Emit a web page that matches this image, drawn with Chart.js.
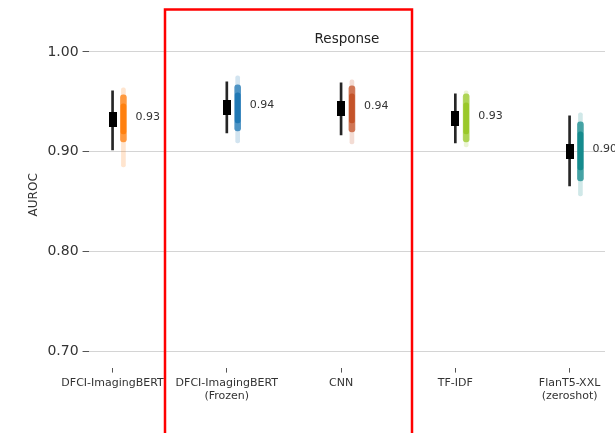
<!DOCTYPE html>
<html>
<head>
<meta charset="utf-8">
<script src="https://cdn.jsdelivr.net/npm/chart.js@4.4.1/dist/chart.umd.min.js"></script>
<style>
  html, body { margin: 0; padding: 0; background: #fff; }
  #wrap { width: 615px; height: 433px; position: relative; }
</style>
</head>
<body>
<div id="wrap"><canvas id="aurocChart"></canvas></div>
<script>
// categories and values
const models = [
  ["DFCI-ImagingBERT"],
  ["DFCI-ImagingBERT", "(Frozen)"],
  ["CNN"],
  ["TF-IDF"],
  ["FlanT5-XXL", "(zeroshot)"]
];
const meanAuroc = [0.932, 0.944, 0.943, 0.933, 0.900];
const meanLabels = ["0.93", "0.94", "0.94", "0.93", "0.90"];
const ciLow  = [0.902, 0.919, 0.917, 0.909, 0.866];
const ciHigh = [0.961, 0.970, 0.969, 0.958, 0.936];
// bootstrap spread: extremes, bulk, core
const bootMin  = [0.885, 0.909, 0.908, 0.905, 0.856];
const bootMax  = [0.964, 0.976, 0.972, 0.961, 0.939];
const bulkLow  = [0.910, 0.921, 0.920, 0.910, 0.871];
const bulkHigh = [0.957, 0.967, 0.966, 0.958, 0.930];
const coreLow  = [0.918, 0.929, 0.929, 0.918, 0.882];
const coreHigh = [0.948, 0.959, 0.958, 0.949, 0.920];
const yTicks = [0.70, 0.80, 0.90, 1.00];

const colors = ["255,127,14", "31,119,180", "196,82,40", "154,200,40", "20,138,140"];
const stripShift = 0.095; // strip sits just right of the mean marker

// black box marker for the mean
let boxMark = document.createElement("canvas");
boxMark.width = 8;
boxMark.height = 15;
let bctx = boxMark.getContext("2d");
bctx.fillStyle = "#000";
bctx.fillRect(0, 0, 8, 15);

Chart.defaults.font.family = "'DejaVu Sans', sans-serif";
Chart.defaults.color = "#333";

function stripData(lo, hi) {
  return models.map((m, i) => ({ x: i + stripShift, y: [lo[i], hi[i]] }));
}
function stripColors(alpha) {
  return colors.map(c => "rgba(" + c + "," + alpha + ")");
}

let datasets = [
  {
    type: "scatter",
    data: meanAuroc.map((v, i) => ({ x: i, y: v })),
    pointStyle: boxMark,
    pointRadius: 6
  },
  {
    type: "bar",
    grouped: false,
    data: models.map((m, i) => ({ x: i, y: [ciLow[i], ciHigh[i]] })),
    backgroundColor: "#262626",
    barThickness: 2
  },
  {
    type: "bar",
    grouped: false,
    data: stripData(coreLow, coreHigh),
    backgroundColor: stripColors(0.95),
    barThickness: 5,
    borderRadius: 2.5,
    borderSkipped: false
  },
  {
    type: "bar",
    grouped: false,
    data: stripData(bulkLow, bulkHigh),
    backgroundColor: stripColors(0.75),
    barThickness: 6,
    borderRadius: 3,
    borderSkipped: false
  },
  {
    type: "bar",
    grouped: false,
    data: stripData(bootMin, bootMax),
    backgroundColor: stripColors(0.2),
    barThickness: 4,
    borderRadius: 2,
    borderSkipped: false
  }
];

// value labels, the red frame and the "Response" heading
const extrasPlugin = {
  id: "extras",
  afterDatasetsDraw(chart) {
    let ctx = chart.ctx;
    let xs = chart.scales.x;
    let ys = chart.scales.y;
    ctx.save();
    ctx.font = "11px 'DejaVu Sans'";
    ctx.fillStyle = "#333";
    ctx.textBaseline = "middle";
    meanAuroc.forEach((v, i) => {
      ctx.fillText(meanLabels[i], xs.getPixelForValue(i) + 23, ys.getPixelForValue(v) - 3);
    });

    ctx.font = "13.5px 'DejaVu Sans'";
    ctx.textAlign = "center";
    ctx.fillStyle = "#222";
    ctx.fillText("Response", 347, 39);

    ctx.strokeStyle = "#ff0000";
    ctx.lineWidth = 2.5;
    ctx.strokeRect(165, 9.5, 247, chart.height + 10);
    ctx.restore();
  }
};

new Chart(document.querySelector("#aurocChart"), {
  type: "bar",
  data: { datasets: datasets },
  options: {
    responsive: true,
    maintainAspectRatio: false,
    animation: false,
    layout: { padding: { left: 23, right: 10, top: 22, bottom: 26 } },
    plugins: {
      legend: { display: false },
      tooltip: { enabled: false }
    },
    scales: {
      x: {
        type: "linear",
        min: -0.21,
        max: 4.31,
        offset: false,
        border: { display: false },
        grid: { offset: false, drawOnChartArea: false, drawTicks: true, tickLength: 5, tickColor: "#555" },
        afterBuildTicks: axis => { axis.ticks = models.map((m, i) => ({ value: i })); },
        ticks: {
          font: { size: 11 },
          padding: 4,
          maxRotation: 0,
          autoSkip: false,
          callback: (v) => models[v]
        }
      },
      y: {
        min: 0.684,
        max: 1.03,
        border: { display: false },
        afterBuildTicks: axis => { axis.ticks = yTicks.map(v => ({ value: v })); },
        grid: { color: "#d4d4d4", lineWidth: 1, tickLength: 6, tickColor: "#555" },
        ticks: {
          font: { size: 14 },
          padding: 4,
          callback: v => v.toFixed(2)
        },
        title: {
          display: true,
          text: "AUROC",
          font: { size: 12 },
          padding: { top: 4, bottom: 2 }
        }
      }
    }
  },
  plugins: [extrasPlugin]
});
</script>
</body>
</html>
